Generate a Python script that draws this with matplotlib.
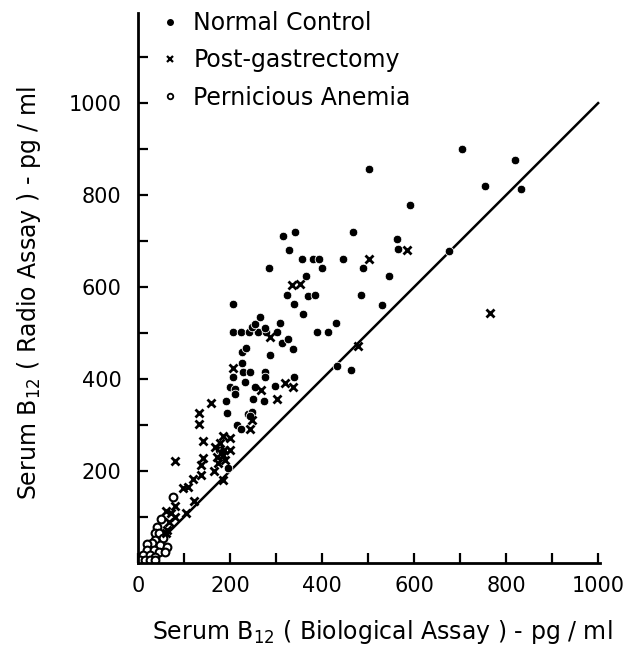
import matplotlib
matplotlib.use("Agg")
import matplotlib.pyplot as plt
from matplotlib.lines import Line2D
from matplotlib.ticker import MultipleLocator

# Normal control (dots): biological assay vs radio assay, pg/ml
normal_bio = [503, 705, 820, 754, 832, 591, 315, 341, 468, 562, 566, 676,
              328, 357, 381, 393, 445, 488, 285, 401, 546, 485, 531, 365,
              323, 369, 385, 338, 358, 430, 388, 413, 207, 207, 224, 241,
              260, 278, 303, 247, 254, 265, 276, 309, 312, 327, 336, 288,
              225, 235, 227, 229, 243, 276, 276, 206, 339, 233, 298, 199,
              211, 211, 254, 249, 274, 191, 193, 240, 247, 243, 216, 223,
              196, 177, 182, 432, 463]
normal_radio = [857, 900, 876, 820, 814, 779, 711, 720, 720, 704, 683, 679,
                680, 660, 662, 661, 662, 642, 641, 641, 624, 583, 561, 624,
                583, 581, 583, 563, 541, 522, 503, 503, 563, 503, 503, 503,
                503, 503, 503, 514, 520, 534, 512, 522, 478, 488, 465, 452,
                459, 468, 434, 416, 416, 416, 404, 404, 405, 394, 385, 382,
                378, 367, 382, 356, 353, 353, 327, 325, 329, 320, 300, 291,
                206, 246, 242, 428, 420]

# Post-gastrectomy (x)
gastr_bio = [584, 501, 765, 479, 334, 352, 288, 207, 320, 336, 267, 303,
             158, 133, 133, 141, 80, 142, 136, 138, 119, 109, 97, 165,
             185, 185, 201, 167, 178, 187, 200, 171, 185, 189, 175, 247,
             243, 80, 61, 72, 68, 81, 104, 121, 63, 60]
gastr_radio = [680, 662, 543, 472, 604, 606, 492, 423, 392, 382, 376, 357,
               348, 327, 302, 266, 222, 228, 213, 191, 182, 165, 162, 199,
               180, 276, 271, 253, 262, 246, 246, 231, 235, 224, 217, 311,
               291, 124, 114, 108, 90, 101, 108, 135, 72, 65]

# Pernicious anemia (open circles)
pa_bio = [77, 51, 41, 38, 45, 54, 38, 30, 20, 48, 63, 20, 34, 45, 59,
          12, 27, 38, 5, 16, 27, 38]
pa_radio = [143, 95, 79, 66, 65, 54, 50, 43, 41, 39, 35, 28, 28, 25, 25,
            17, 17, 14, 7, 7, 7, 7]

identity = [40, 1000]

plt.rcParams["font.family"] = ["DejaVu Sans"]

fig = plt.figure(figsize=(6.26, 6.52), dpi=100)
ax = fig.add_axes([0.2204, 0.1365, 0.738, 0.8436])

ax.plot(identity, identity, color="black", lw=1.8, zorder=1)
ax.plot(normal_bio, normal_radio, "o", ms=6.2, color="black",
        mec="white", mew=0.6, zorder=3)
ax.plot(gastr_bio, gastr_radio, "x", ms=6.3, color="black", mew=2.0, zorder=3)
ax.plot(pa_bio, pa_radio, "o", ms=5.6, mfc="white", mec="black", mew=1.5,
        zorder=2)

ax.set_xlim(0, 1004)
ax.set_ylim(0, 1196)
ax.xaxis.set_major_locator(MultipleLocator(200))
ax.xaxis.set_minor_locator(MultipleLocator(100))
ax.set_yticks([200, 400, 600, 800, 1000])
ax.yaxis.set_minor_locator(MultipleLocator(100))
ax.tick_params(which="both", direction="in", length=7, width=1.6,
               labelsize=15)
ax.tick_params(axis="y", which="major", pad=12)
ax.tick_params(axis="x", which="major", pad=9)
for side in ("top", "right"):
    ax.spines[side].set_visible(False)
for side in ("left", "bottom"):
    ax.spines[side].set_linewidth(2)

ax.set_xlabel("Serum B$_{12}$ ( Biological Assay ) - pg / ml", fontsize=17)
ax.set_ylabel("Serum B$_{12}$ ( Radio Assay ) - pg / ml", fontsize=17)
ax.xaxis.set_label_coords(0.528, -0.100)
ax.yaxis.set_label_coords(-0.205, 0.49)

handles = [
    Line2D([], [], ls="none", marker="o", ms=4, color="black"),
    Line2D([], [], ls="none", marker="x", ms=4.5, mew=1.6, color="black"),
    Line2D([], [], ls="none", marker="o", ms=4, mfc="white",
           mec="black", mew=1.3),
]
ax.legend(handles, ["Normal Control", "Post-gastrectomy", "Pernicious Anemia"],
          loc="upper left", bbox_to_anchor=(0.0435, 1.004), frameon=False,
          fontsize=17, handlelength=1.0, handletextpad=0.5,
          labelspacing=0.57, borderaxespad=0.0, borderpad=0.0)

fig.savefig("out.png")
